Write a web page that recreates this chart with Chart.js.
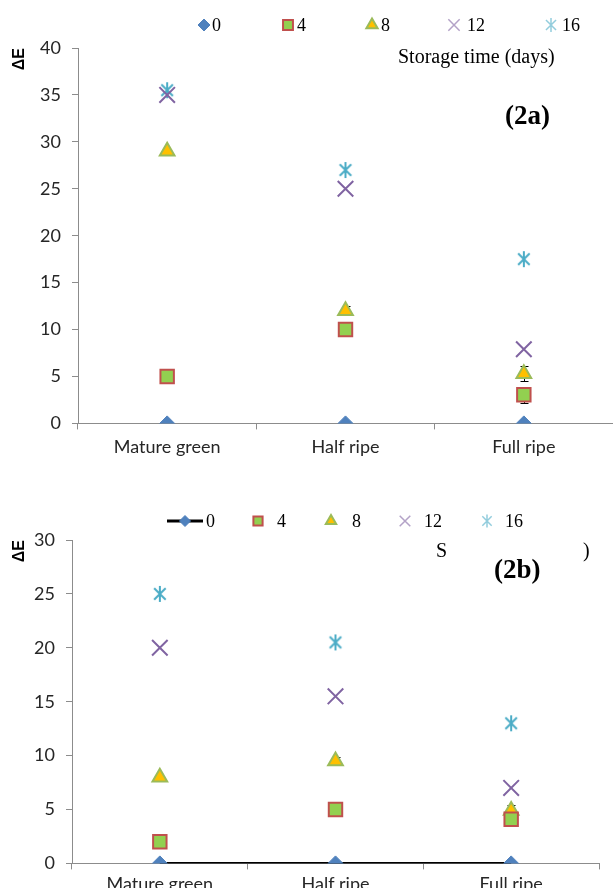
<!DOCTYPE html>
<html>
<head>
<meta charset="utf-8">
<title>ΔE by ripening stage and storage time</title>
<script src="https://cdn.jsdelivr.net/npm/chart.js@4.4.1/dist/chart.umd.min.js"></script>
<style>
  html, body { margin: 0; padding: 0; background: #fff; width: 613px; height: 888px; overflow: hidden; }
  .panel { position: absolute; left: 0; }
  #panelA { top: 0; width: 613px; height: 470px; }
  #panelB { top: 495px; width: 600px; height: 410px; }
</style>
</head>
<body>
<div class="panel" id="panelA"><canvas id="chartA"></canvas></div>
<div class="panel" id="panelB"><canvas id="chartB"></canvas></div>
<script>
// Ripening stages on the x axis and storage times (days) for the series
const stages = ['Mature green', 'Half ripe', 'Full ripe'];
const storageDays = ['0', '4', '8', '12', '16'];

// Panel (2a): colour difference ΔE
const deltaA_day0  = [0, 0, 0];
const deltaA_day4  = [5, 10, 3.05];
const deltaA_day8  = [29, 12, 5.3];
const deltaA_day12 = [35, 25, 7.9];
const deltaA_day16 = [35.5, 27, 17.5];
const errorA_day4  = [0, 0, 0.85];
const errorA_day8  = [0, 0.5, 0.8];

// Panel (2b): colour difference ΔE
const deltaB_day0  = [0, 0, 0];
const deltaB_day4  = [2, 5, 4.1];
const deltaB_day8  = [8, 9.5, 4.9];
const deltaB_day12 = [20, 15.5, 7];
const deltaB_day16 = [25, 20.5, 13];
const errorB_day4  = [0, 0, 0.4];
const errorB_day8  = [0, 0.4, 0.5];

// Y axis ranges
const yAxisA = { min: 0, max: 40, step: 5 };
const yAxisB = { min: 0, max: 30, step: 5 };

const AXIS_GREY = '#8c8c8c';
const TICK_FONT = { family: 'Lato', size: 18 };
const SERIF = '"Liberation Serif", "Times New Roman", serif';

// Six-spoke asterisk marker
function asterisk(color, size, lw) {
  const c = document.createElement('canvas');
  c.width = size; c.height = size;
  const g = c.getContext('2d');
  const m = size / 2, r = size / 2 - 1, d = r * 0.72;
  g.strokeStyle = color; g.lineWidth = lw; g.lineCap = 'butt';
  g.beginPath();
  g.moveTo(m, m - r); g.lineTo(m, m + r);
  g.moveTo(m - d, m - d); g.lineTo(m + d, m + d);
  g.moveTo(m + d, m - d); g.lineTo(m - d, m + d);
  g.stroke();
  return c;
}

const markerStyles = [
  { pointStyle: 'rectRot', radius: 7.5, fill: '#4F81BD', stroke: '#4F81BD', width: 1 },
  { pointStyle: 'rect', radius: 9.5, fill: '#92D050', stroke: '#C0504D', width: 2 },
  { pointStyle: 'triangle', radius: 8.5, fill: '#FFC000', stroke: '#9BBB59', width: 2 },
  { pointStyle: 'crossRot', radius: 11, fill: '#8064A2', stroke: '#8064A2', width: 2 },
  { pointStyle: asterisk('#4BACC6', 18, 2), radius: 9, fill: '#4BACC6', stroke: '#4BACC6', width: 2 }
];

function makeDataset(i, values, errors, joinLine) {
  const s = markerStyles[i];
  return {
    label: storageDays[i],
    data: values,
    errors: errors || null,
    showLine: !!joinLine,
    borderColor: joinLine ? '#000' : s.stroke,
    borderWidth: joinLine ? 3 : 0,
    backgroundColor: s.fill,
    pointStyle: s.pointStyle,
    pointRadius: s.radius,
    pointHoverRadius: s.radius,
    pointBackgroundColor: s.fill,
    pointBorderColor: s.stroke,
    pointBorderWidth: s.width,
    tension: 0
  };
}

// Vertical error bars with caps, drawn beneath the markers
const errorBars = {
  id: 'errorBars',
  beforeDatasetsDraw(chart) {
    const { ctx, scales: { x, y } } = chart;
    ctx.save();
    ctx.strokeStyle = '#000';
    ctx.lineWidth = 1;
    chart.data.datasets.forEach(ds => {
      if (!ds.errors) return;
      ds.data.forEach((v, i) => {
        const e = ds.errors[i];
        if (!e) return;
        const px = Math.round(x.getPixelForValue(i)) + 0.5;
        const top = Math.round(y.getPixelForValue(v + e)) + 0.5;
        const bot = Math.round(y.getPixelForValue(v - e)) + 0.5;
        ctx.beginPath();
        ctx.moveTo(px, top); ctx.lineTo(px, bot);
        ctx.moveTo(px - 4, top); ctx.lineTo(px + 4, top);
        ctx.moveTo(px - 4, bot); ctx.lineTo(px + 4, bot);
        ctx.stroke();
      });
    });
    ctx.restore();
  }
};

// Legend row and panel annotations
function drawKey(ctx, style, x, y, r, lineThrough) {
  ctx.save();
  if (lineThrough) {
    ctx.strokeStyle = '#000'; ctx.lineWidth = 3;
    ctx.beginPath(); ctx.moveTo(x - 18, y); ctx.lineTo(x + 18, y); ctx.stroke();
  }
  ctx.fillStyle = style.fill;
  ctx.strokeStyle = style.stroke;
  ctx.lineWidth = style.width;
  Chart.helpers.drawPoint(ctx, { pointStyle: style.pointStyle, radius: r, borderWidth: style.width, rotation: 0 }, x, y);
  ctx.restore();
}

const annotations = {
  id: 'annotations',
  afterDraw(chart, args, opts) {
    const ctx = chart.ctx;
    ctx.save();
    const lg = opts.legend;
    const keyStyles = [
      markerStyles[0], markerStyles[1], markerStyles[2],
      { pointStyle: 'crossRot', fill: '#B3A2C7', stroke: '#B3A2C7', width: 1.5 }
    ];
    ctx.font = lg.fontSize + 'px ' + SERIF;
    ctx.textBaseline = 'middle';
    ctx.textAlign = 'left';
    lg.items.forEach((it, i) => {
      const r = lg.radius[i];
      if (i === 4) {
        ctx.strokeStyle = '#93CDDD'; ctx.lineWidth = 1.5;
        const d = r * 0.72;
        ctx.beginPath();
        ctx.moveTo(it.mx, lg.y - r); ctx.lineTo(it.mx, lg.y + r);
        ctx.moveTo(it.mx - d, lg.y - d); ctx.lineTo(it.mx + d, lg.y + d);
        ctx.moveTo(it.mx + d, lg.y - d); ctx.lineTo(it.mx - d, lg.y + d);
        ctx.stroke();
      } else {
        drawKey(ctx, keyStyles[i], it.mx, lg.y, r, i === 0 && lg.lineFirst);
      }
      ctx.fillStyle = '#000';
      ctx.fillText(storageDays[i], it.tx, lg.y + 1);
    });
    opts.texts.forEach(t => {
      ctx.font = t.font;
      ctx.fillStyle = '#000';
      ctx.textAlign = 'left';
      ctx.textBaseline = 'middle';
      ctx.fillText(t.text, t.x, t.y);
    });
    ctx.restore();
  }
};

function axisOptions(range, leftWidth, tickPad) {
  return {
    x: {
      type: 'category',
      offset: true,
      grid: { offset: true, drawOnChartArea: false, drawTicks: true, tickLength: 6, color: AXIS_GREY },
      border: { display: true, color: AXIS_GREY, width: 1 },
      ticks: { font: TICK_FONT, color: '#262626', padding: tickPad, maxRotation: 0, autoSkip: false },
      afterFit(scale) { scale.paddingLeft = 0; scale.paddingRight = 0; }
    },
    y: {
      min: range.min, max: range.max,
      grid: { drawOnChartArea: false, drawTicks: true, tickLength: 6, color: AXIS_GREY },
      border: { display: true, color: AXIS_GREY, width: 1 },
      ticks: { stepSize: range.step, font: TICK_FONT, color: '#262626', padding: 11 },
      title: {
        display: true, text: 'ΔE', align: 'end',
        font: { family: '"Liberation Sans", Arial, sans-serif', size: 16, weight: 'bold' },
        color: '#000', padding: { top: 10, bottom: 0 }
      },
      afterFit(scale) { scale.width = leftWidth; }
    }
  };
}

const commonPlugins = {
  legend: { display: false },
  tooltip: { enabled: false }
};

new Chart(document.getElementById('chartA'), {
  type: 'line',
  data: {
    labels: stages,
    datasets: [
      makeDataset(0, deltaA_day0),
      makeDataset(1, deltaA_day4, errorA_day4),
      makeDataset(2, deltaA_day8, errorA_day8),
      makeDataset(3, deltaA_day12),
      makeDataset(4, deltaA_day16)
    ]
  },
  options: {
    responsive: true,
    maintainAspectRatio: false,
    animation: false,
    events: [],
    layout: { autoPadding: false, padding: { top: 48, right: 0, bottom: 5, left: 0 } },
    scales: axisOptions(yAxisA, 78, 7),
    plugins: Object.assign({}, commonPlugins, {
      annotations: {
        legend: {
          y: 25, fontSize: 18, lineFirst: false,
          radius: [6, 7, 6.5, 8, 7],
          items: [
            { mx: 204, tx: 212 }, { mx: 288, tx: 297 }, { mx: 372, tx: 381 },
            { mx: 454, tx: 467 }, { mx: 551, tx: 562 }
          ]
        },
        texts: [
          { text: 'Storage time (days)', x: 398, y: 58, font: '20px ' + SERIF },
          { text: '(2a)', x: 505, y: 117, font: 'bold 27px ' + SERIF }
        ]
      }
    })
  },
  plugins: [errorBars, annotations]
});

new Chart(document.getElementById('chartB'), {
  type: 'line',
  data: {
    labels: stages,
    datasets: [
      makeDataset(0, deltaB_day0, null, true),
      makeDataset(1, deltaB_day4, errorB_day4),
      makeDataset(2, deltaB_day8, errorB_day8),
      makeDataset(3, deltaB_day12),
      makeDataset(4, deltaB_day16)
    ]
  },
  options: {
    responsive: true,
    maintainAspectRatio: false,
    animation: false,
    events: [],
    layout: { autoPadding: false, padding: { top: 45, right: 1, bottom: 6, left: 0 } },
    scales: axisOptions(yAxisB, 72, 4),
    plugins: Object.assign({}, commonPlugins, {
      annotations: {
        legend: {
          y: 26, fontSize: 18, lineFirst: true,
          radius: [5.5, 6.5, 6, 7.5, 6.5],
          items: [
            { mx: 185, tx: 206 }, { mx: 258, tx: 277 }, { mx: 331, tx: 352 },
            { mx: 405, tx: 424 }, { mx: 487, tx: 505 }
          ]
        },
        texts: [
          { text: 'S', x: 436, y: 57, font: '20px ' + SERIF },
          { text: ')', x: 583, y: 57, font: '20px ' + SERIF },
          { text: '(2b)', x: 494, y: 76, font: 'bold 27px ' + SERIF }
        ]
      }
    })
  },
  plugins: [errorBars, annotations]
});
</script>
</body>
</html>
